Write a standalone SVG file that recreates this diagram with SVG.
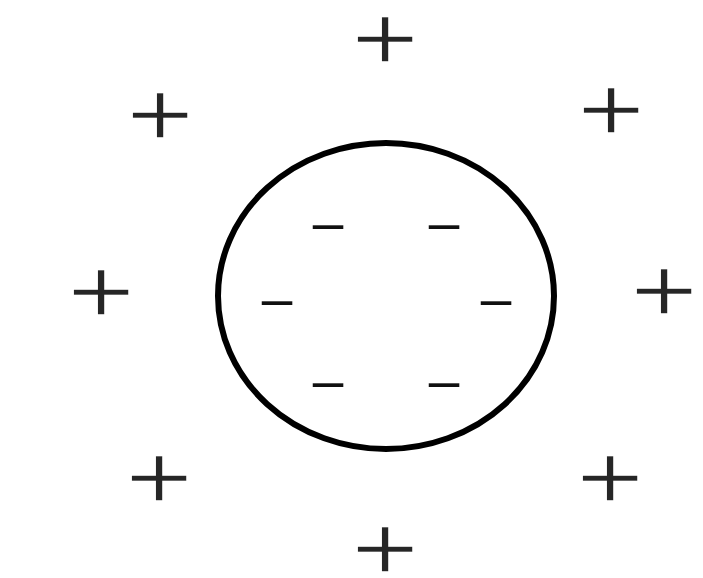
<svg xmlns="http://www.w3.org/2000/svg" width="703" height="578" viewBox="0 0 703 578">
<style>
.plus{font-family:"Liberation Sans",Arial,sans-serif;font-size:116px;fill:#262626;stroke:#fff;stroke-width:2;text-anchor:middle;paint-order:normal}
.minus{font-family:"Liberation Sans",Arial,sans-serif;font-size:55px;fill:#111;text-anchor:middle}
</style>
<rect width="703" height="578" fill="#fff"/>
<g id="sphere">
<ellipse cx="386" cy="296" rx="168" ry="153" fill="#fff" stroke="#000" stroke-width="6"/>
</g>
<g id="negative-charges">
<text class="minus" x="328" y="241">–</text>
<text class="minus" x="444" y="241">–</text>
<text class="minus" x="277" y="317">–</text>
<text class="minus" x="496" y="317">–</text>
<text class="minus" x="328" y="399">–</text>
<text class="minus" x="444" y="399">–</text>
</g>
<g id="positive-charges">
<text class="plus" transform="translate(385,41) scale(1,0.8)" y="36">+</text>
<text class="plus" transform="translate(160,117) scale(1,0.8)" y="36">+</text>
<text class="plus" transform="translate(611,112) scale(1,0.8)" y="36">+</text>
<text class="plus" transform="translate(101,294) scale(1,0.8)" y="36">+</text>
<text class="plus" transform="translate(664,293) scale(1,0.8)" y="36">+</text>
<text class="plus" transform="translate(159,480) scale(1,0.8)" y="36">+</text>
<text class="plus" transform="translate(610,480) scale(1,0.8)" y="36">+</text>
<text class="plus" transform="translate(385,551) scale(1,0.8)" y="36">+</text>
</g>
</svg>
